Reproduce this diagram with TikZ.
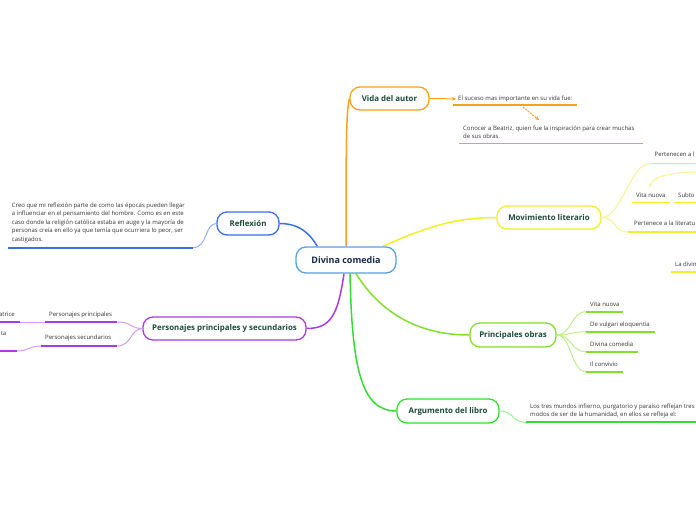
\documentclass[tikz,border=0pt]{standalone}
\usepackage{fontspec}
\setmainfont{Open Sans}
\usetikzlibrary{arrows.meta}
\pgfdeclarelayer{background}
\pgfsetlayers{background,main}
\definecolor{ccenter}{HTML}{5A9EE2}
\definecolor{centertext}{HTML}{16284A}
\definecolor{topictext}{HTML}{1B4A3A}
\definecolor{subtext}{HTML}{333333}
\definecolor{corange}{HTML}{F7A21B}
\definecolor{cyellow}{HTML}{F2EE2A}
\definecolor{lyellow}{HTML}{F7F48A}
\definecolor{clime}{HTML}{80E02A}
\definecolor{llime}{HTML}{BDEE90}
\definecolor{cgreen}{HTML}{33DD33}
\definecolor{cblue}{HTML}{3A6EE8}
\definecolor{lblue}{HTML}{8FAEF3}
\definecolor{cpurple}{HTML}{A93BE6}
\definecolor{lpurple}{HTML}{D59CF3}
\begin{document}
\begin{tikzpicture}[x=1pt,y=-1pt,
  topic/.style={rectangle, rounded corners=10pt, line width=1.3pt, fill=white,
    inner sep=0pt, minimum height=23pt, font=\fontsize{7.9}{10}\selectfont\bfseries, text=topictext},
  sub/.style={anchor=base west, inner sep=0pt, align=left,
    font=\fontsize{6}{8.6}\selectfont, text=subtext},
  uline/.style={line width=1.8pt},
  mainline/.style={line width=1.5pt},
  twig/.style={line width=1pt}]
\useasboundingbox (0,0) rectangle (696,520);
\clip (0,0) rectangle (696,520);
% topics
\node[topic, draw=ccenter, minimum width=100pt, minimum height=26pt, text=centertext, font=\fontsize{9}{11}\selectfont\bfseries] (c) at (346,260) {Divina comedia};
\node[topic, draw=corange, minimum width=79pt] (vida) at (389.5,98.5) {Vida del autor};
\node[topic, draw=cyellow, minimum width=104pt] (mov) at (549,217.5) {Movimiento literario};
\node[topic, draw=clime, minimum width=86pt, minimum height=24pt] (obras) at (513,335) {Principales obras};
\node[topic, draw=cgreen, minimum width=102pt, minimum height=24pt] (arg) at (448,411) {Argumento del libro};
\node[topic, draw=cblue, minimum width=62pt] (ref) at (248,223.5) {Reflexión};
\node[topic, draw=cpurple, minimum width=163pt] (pers) at (224.5,328.5) {Personajes principales y secundarios};
\begin{pgfonlayer}{background}
\draw[mainline, corange] (c.north) .. controls +(0,-110) and +(-3,14) .. (vida.west);
\draw[mainline, cblue] (ref.east) .. controls +(22,0) and +(-6,-10) .. ([xshift=22pt]c.north west);
\draw[mainline, cyellow] ([xshift=-14pt]c.north east) .. controls +(45,-20) and +(-40,0) .. (mov.west);
\draw[mainline, clime] ([xshift=10pt]c.south) .. controls +(25,40) and +(-50,0) .. (obras.west);
\draw[mainline, cgreen] ([xshift=4pt]c.south) .. controls +(2,95) and +(-35,0) .. (arg.west);
\draw[mainline, cpurple] ([xshift=-2pt]c.south) .. controls +(-6,40) and +(25,0) .. (pers.east);
\end{pgfonlayer}
% Vida del autor
\node[sub] (v1) at (458,100.5) {El suceso mas importante en su vida fue:};
\coordinate (v1a) at (453,105); \coordinate (v1b) at (577,105);
\draw[uline, corange] (v1a) -- (v1b);
\draw[twig, corange, -{Stealth[length=4pt,width=4pt]}, shorten >=2pt] (vida.east) -- (v1.west);
\node[sub] (v2) at (463,138.6) {Conocer a Beatriz, quien fue la inspiración para crear muchas\\de sus obras.};
\coordinate (v2a) at (459,143.5); \coordinate (v2b) at (643,143.5);
\draw[uline, corange] (v2a) -- (v2b);
\coordinate (d1) at (523,107); \coordinate (d2) at (539,120);
\draw[twig, corange, dash pattern=on 2pt off 1pt, -{Stealth[length=4pt,width=4pt]}] (d1) -- (d2);
% Movimiento literario
\node[sub] (m1) at (654.5,156) {Pertenecen a l};
\coordinate (m1a) at (650,163.5); \coordinate (m1b) at (700,163.5);
\draw[uline, cyellow] (m1a) -- (m1b);
\draw[twig, lyellow] (mov.east) .. controls +(20,0) and +(-20,0) .. (m1a);
\node[sub] (m2) at (636,197) {Vita nuova};
\coordinate (m2a) at (632,202.5); \coordinate (m2b) at (670,202.5);
\draw[uline, cyellow] (m2a) -- (m2b);
\node[sub] (m3) at (678,197) {Subto};
\coordinate (m3a) at (674,202.5); \coordinate (m3b) at (700,202.5);
\draw[uline, cyellow] (m3a) -- (m3b);
\coordinate (m2t) at (650,187); \coordinate (offr) at (700,172);
\draw[twig, lyellow] (m2t) .. controls +(0,-10) and +(-30,0) .. (offr);
\node[sub] (m4) at (634,225.5) {Pertenece a la literatu};
\coordinate (m4a) at (628,232); \coordinate (m4b) at (700,232);
\draw[uline, cyellow] (m4a) -- (m4b);
\draw[twig, lyellow] (mov.east) .. controls +(15,0) and +(-15,0) .. (m4a);
\node[sub] (m5) at (675,266.5) {La divin};
\coordinate (m5a) at (671,271.7); \coordinate (m5b) at (700,271.7);
\draw[uline, cyellow] (m5a) -- (m5b);
% Principales obras
\node[sub] (o1) at (590,306) {Vita nuova};
\node[sub] (o2) at (590,326) {De vulgari eloquentia};
\node[sub] (o3) at (590,346) {Divina comedia};
\node[sub] (o4) at (590,366) {Il convivio};
\coordinate (o1a) at (586,311.7); \coordinate (o1b) at (623,311.7);
\coordinate (o2a) at (586,331.7); \coordinate (o2b) at (655,331.7);
\coordinate (o3a) at (586,351.7); \coordinate (o3b) at (638,351.7);
\coordinate (o4a) at (586,371.7); \coordinate (o4b) at (623,371.7);
\foreach \i in {1,2,3,4}{
  \draw[uline, clime] (o\i a) -- (o\i b);
  \draw[twig, llime] (obras.east) .. controls +(15,0) and +(-15,0) .. (o\i a);
}
% Argumento del libro
\node[sub] (a1) at (530,416.6) {Los tres mundos infierno, purgatorio y paraíso reflejan tres\\modos de ser de la humanidad, en ellos se refleja el:};
\coordinate (a1a) at (526,422.3); \coordinate (a1b) at (700,422.3);
\draw[uline, cgreen] (a1a) -- (a1b);
\draw[twig, cgreen!50] (arg.east) .. controls +(15,0) and +(-15,0) .. (a1a);
% Reflexion
\node[sub] (r1) at (11.7,241.5) {Creo que mi reflexión parte de como las épocas pueden llegar\\a influenciar en el pensamiento del hombre. Como es en este\\caso donde la religión católica estaba en auge y la mayoría de\\personas creía en ello ya que temía que ocurriera lo peor, ser\\castigados.};
\coordinate (r1a) at (8,247.7); \coordinate (r1b) at (193,247.7);
\draw[uline, cblue] (r1a) -- (r1b);
\draw[twig, lblue] (r1b) .. controls +(15,0) and +(-12,0) .. (ref.west);
% Personajes
\node[sub] (p1) at (49,316) {Personajes principales};
\coordinate (p1a) at (45,322); \coordinate (p1b) at (117,322);
\node[sub] (p2) at (45,339) {Personajes secundarios};
\coordinate (p2a) at (41,346); \coordinate (p2b) at (117,346);
\draw[uline, cpurple] (p1a) -- (p1b);
\draw[uline, cpurple] (p2a) -- (p2b);
\draw[twig, lpurple] (p1b) .. controls +(15,0) and +(-12,0) .. (pers.west);
\draw[twig, lpurple] (p2b) .. controls +(15,0) and +(-12,0) .. (pers.west);
\node[sub, anchor=base east] (p3) at (15,316) {atrice};
\coordinate (p3a) at (-5,322); \coordinate (p3b) at (20,322);
\draw[uline, cpurple] (p3a) -- (p3b);
\draw[twig, lpurple] (p3b) -- (p1a);
\node[sub, anchor=base east] (p4) at (6.5,335) {ta};
\coordinate (p4a) at (-5,351); \coordinate (p4b) at (17,351);
\draw[uline, cpurple] (p4a) -- (p4b);
\draw[twig, lpurple] (p4b) .. controls +(12,0) and +(-12,0) .. (p2a);
\end{tikzpicture}
\end{document}
